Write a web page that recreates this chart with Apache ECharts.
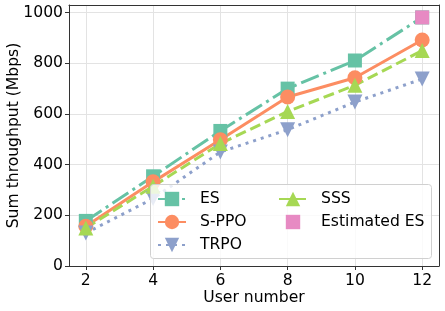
<!DOCTYPE html>
<html>
<head>
<meta charset="utf-8">
<script src="https://cdn.jsdelivr.net/npm/echarts@6/dist/echarts.min.js"></script>
<style>html,body{margin:0;padding:0;background:#fff}#c{width:445px;height:311px}</style>
</head>
<body>
<div id="c"></div>
<script>
const users = [2, 4, 6, 8, 10, 12];
const esVals = [178, 354, 533, 700, 811, 981];
const sppoVals = [157, 332, 498, 667, 743, 892];
const trpoVals = [130, 266, 450, 538, 647, 738];
const sssVals = [150, 315, 483, 610, 713, 850];
const estUsers = [12];
const estEsVals = [981];
const xTicks = [2, 4, 6, 8, 10, 12];
const yTicks = [0, 200, 400, 600, 800, 1000];

const FONT = 'DejaVu Sans';
const FS = 15.6;
const pairs = (xs, ys) => xs.map((x, i) => [x, ys[i]]);

const chart = echarts.init(document.getElementById('c'), null, {renderer: 'canvas'});
const axisCommon = {
  axisLine: {show: true, onZero: false, lineStyle: {color: '#333', width: 1}},
  axisTick: {show: true, inside: false, length: 4, lineStyle: {color: '#333'}},
  splitLine: {show: true, lineStyle: {color: '#e3e3e3', width: 1}},
  axisLabel: {color: '#000', fontFamily: FONT, fontSize: FS, margin: 6, formatter: v => String(v)}
};
const legendCommon = {
  orient: 'vertical', top: 186, itemGap: 7, padding: 5,
  itemWidth: 28, itemHeight: 18,
  textStyle: {color: '#000', fontFamily: FONT, fontSize: FS, padding: [0, 0, 0, 9]},
  z: 5
};
chart.setOption({
  animation: false,
  grid: {left: 69, right: 6, top: 5, bottom: 45, containLabel: false, outerBoundsMode: 'none'},
  xAxis: [{
    type: 'value', min: 1.5, max: 12.5,
    name: 'User number', nameLocation: 'middle', nameGap: 24, nameMoveOverlap: false,
    nameTextStyle: {color: '#000', fontFamily: FONT, fontSize: FS},
    axisLine: axisCommon.axisLine,
    axisTick: Object.assign({}, axisCommon.axisTick, {customValues: xTicks}),
    axisLabel: Object.assign({}, axisCommon.axisLabel, {customValues: xTicks, margin: 7}),
    splitLine: axisCommon.splitLine
  }, {
    type: 'value', min: 1.5, max: 12.5, position: 'top',
    axisLine: {show: true, onZero: false, lineStyle: {color: '#333'}},
    axisTick: {show: false}, axisLabel: {show: false}, splitLine: {show: false}
  }],
  yAxis: [{
    type: 'value', min: 0, max: 1030,
    name: 'Sum throughput (Mbps)', nameLocation: 'middle', nameGap: 47, nameMoveOverlap: false,
    nameTextStyle: {color: '#000', fontFamily: FONT, fontSize: FS},
    axisLine: axisCommon.axisLine,
    axisTick: Object.assign({}, axisCommon.axisTick, {customValues: yTicks}),
    axisLabel: Object.assign({}, axisCommon.axisLabel, {customValues: yTicks}),
    splitLine: axisCommon.splitLine
  }, {
    type: 'value', min: 0, max: 1030, position: 'right',
    axisLine: {show: true, onZero: false, lineStyle: {color: '#333'}},
    axisTick: {show: false}, axisLabel: {show: false}, splitLine: {show: false}
  }],
  legend: [
    Object.assign({}, legendCommon, {left: 152, data: ['ES', 'S-PPO', 'TRPO']}),
    Object.assign({}, legendCommon, {left: 273, data: ['SSS', 'Estimated ES']})
  ],
  graphic: [{
    type: 'rect', left: 150, top: 184, z: 4,
    shape: {width: 281, height: 74, r: 3},
    style: {fill: 'rgba(255,255,255,0.8)', stroke: '#d0d0d0', lineWidth: 1}
  }],
  series: [{
    name: 'ES', type: 'line', data: pairs(users, esVals),
    symbol: 'rect', symbolSize: 14, z: 2,
    itemStyle: {color: '#66c2a5'},
    lineStyle: {color: '#66c2a5', width: 3, type: [19, 5, 3, 5]}
  }, {
    name: 'S-PPO', type: 'line', data: pairs(users, sppoVals),
    symbol: 'circle', symbolSize: 15, z: 2,
    itemStyle: {color: '#fc8d62'},
    lineStyle: {color: '#fc8d62', width: 3, type: 'solid'}
  }, {
    name: 'TRPO', type: 'line', data: pairs(users, trpoVals),
    symbol: 'triangle', symbolSize: 15, symbolRotate: 180, z: 2,
    itemStyle: {color: '#8da0cb'},
    lineStyle: {color: '#8da0cb', width: 3, type: [3, 5]}
  }, {
    name: 'SSS', type: 'line', data: pairs(users, sssVals),
    symbol: 'triangle', symbolSize: 15, z: 2,
    itemStyle: {color: '#a6d854'},
    lineStyle: {color: '#a6d854', width: 3, type: [11, 5]}
  }, {
    name: 'Estimated ES', type: 'line', data: pairs(estUsers, estEsVals),
    symbol: 'rect', symbolSize: 14, showSymbol: true, z: 3,
    itemStyle: {color: '#e78ac3'},
    lineStyle: {color: '#e78ac3', width: 0, opacity: 0}
  }]
});
</script>
</body>
</html>
